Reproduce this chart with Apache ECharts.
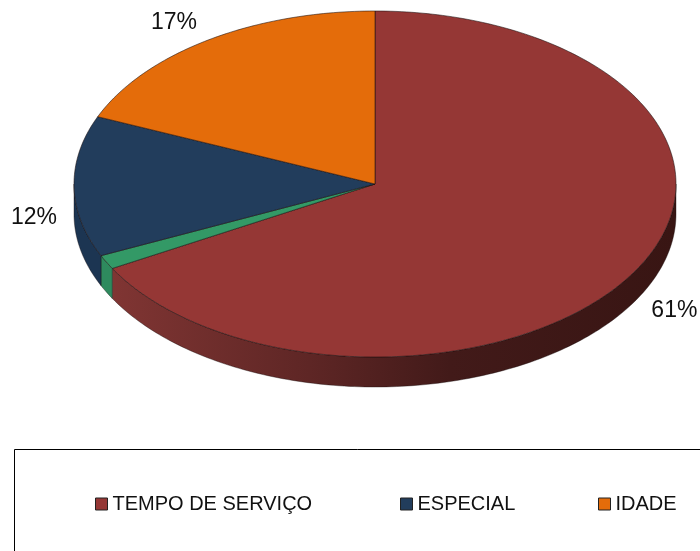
<!DOCTYPE html>
<html><head><meta charset="utf-8">
<style>html,body{margin:0;padding:0;background:#fff}#c{width:700px;height:551px}</style>
<script src="https://cdn.jsdelivr.net/npm/echarts@6/dist/echarts.min.js"></script>
</head><body><div id="c"></div>
<script>
const categories = ['TEMPO DE SERVIÇO', '(sem legenda)', 'ESPECIAL', 'IDADE'];
const values = [61, 1.2, 12, 17];
const labels = ['61%', '', '12%', '17%'];
const legendNames = ['TEMPO DE SERVIÇO', 'ESPECIAL', 'IDADE'];

const topColors = ['#953735', '#339966', '#223D5C', '#E46C0A'];
const wallColors = [
  [[0, '#803533'], [0.35, '#5E2625'], [0.6, '#421A19'], [1, '#381513']],
  [[0, '#2E8A5E'], [1, '#2E8A5E']],
  [[0, '#1C3552'], [1, '#1C3552']],
  [[0, '#E46C0A'], [1, '#E46C0A']]
];
const labelNudge = [[6, 28], [0, 0], [-1, 31], [-13, 2]];
const legendLefts = [90, 395, 593];

const CX = 375, CY = 184, RX = 301, RY = 173, DEPTH = 30, LABEL_R = 1.13;
const total = values.reduce((a, b) => a + b, 0);
const pt = (deg, dy) => {
  const r = deg * Math.PI / 180;
  return [CX + RX * Math.sin(r), CY - RY * Math.cos(r) + (dy || 0)];
};
const arc = (a, b, dy) => {
  const n = Math.max(2, Math.ceil((b - a) / 1));
  const out = [];
  for (let i = 0; i <= n; i++) out.push(pt(a + (b - a) * i / n, dy));
  return out;
};

function makeRender(idx) {
  return function (params, api) {
    const v = api.value(0);
    let before = 0;
    for (let i = 0; i < idx; i++) before += values[i];
    const a = before / total * 360, b = a + v / total * 360;
    const children = [];
    const wa = Math.max(a, 90), wb = Math.min(b, 270);
    if (wb > wa) {
      const pts = arc(wa, wb, 0).concat(arc(wa, wb, DEPTH).reverse());
      children.push({
        type: 'polygon',
        shape: { points: pts },
        style: {
          fill: new echarts.graphic.LinearGradient(112, 0, 676, 0,
            wallColors[idx].map(s => ({ offset: s[0], color: s[1] })), true),
          stroke: 'rgba(20,10,10,0.55)', lineWidth: 0.7
        }
      });
    }
    children.push({
      type: 'polygon',
      shape: { points: [[CX, CY]].concat(arc(a, b, 0)) },
      style: { fill: topColors[idx], stroke: 'rgba(25,15,15,0.7)', lineWidth: 0.8 }
    });
    if (labels[idx]) {
      const m = (a + b) / 2 * Math.PI / 180;
      children.push({
        type: 'text',
        style: {
          text: labels[idx],
          x: CX + RX * LABEL_R * Math.sin(m) + labelNudge[idx][0],
          y: CY - RY * LABEL_R * Math.cos(m) + labelNudge[idx][1],
          align: 'center', verticalAlign: 'middle',
          fill: '#111', font: '23px "Liberation Sans", Arial, sans-serif'
        }
      });
    }
    return { type: 'group', children };
  };
}

const chart = echarts.init(document.getElementById('c'), null, { renderer: 'canvas' });
chart.setOption({
  animation: false,
  backgroundColor: '#fff',
  graphic: [{
    type: 'rect', z: -1, silent: true,
    shape: { x: 14.5, y: 449.5, width: 800, height: 200 },
    style: { fill: '#fff', stroke: '#000', lineWidth: 1 }
  }],
  legend: legendNames.map((name, i) => ({
    data: [name],
    left: legendLefts[i], top: 489,
    itemWidth: 12, itemHeight: 12,
    icon: 'rect',
    itemStyle: { borderColor: '#222', borderWidth: 1 },
    textStyle: { color: '#111', fontSize: 20, fontFamily: '"Liberation Sans", Arial, sans-serif' },
    selectedMode: false
  })),
  series: categories.map((name, i) => ({
    type: 'custom',
    name,
    coordinateSystem: 'none',
    silent: true,
    itemStyle: { color: topColors[i] },
    data: [[values[i]]],
    renderItem: makeRender(i)
  }))
});
</script></body></html>
